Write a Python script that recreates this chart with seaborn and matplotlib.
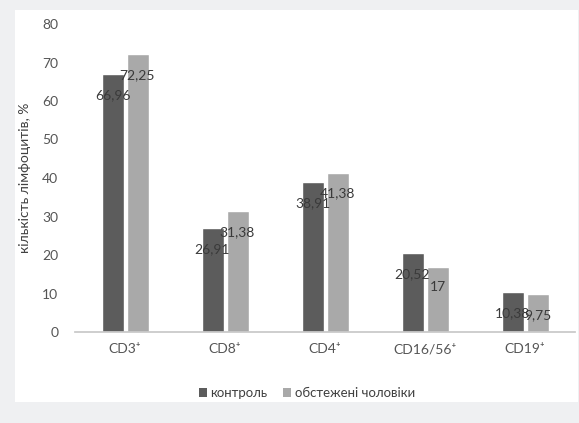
import matplotlib
matplotlib.use('Agg')
import matplotlib.pyplot as plt
import matplotlib.patches as mpatches
import pandas as pd
import seaborn as sns

categories = ['CD3⁺', 'CD8⁺', 'CD4⁺', 'CD16/56⁺', 'CD19⁺']
series_names = ['контроль', 'обстежені чоловіки']
control = [66.96, 26.91, 38.91, 20.52, 10.38]
examined = [72.25, 31.38, 41.38, 17, 9.75]
colors = ['#5c5c5c', '#a9a9a9']

sns.set_theme(style='white')
plt.rcParams['font.family'] = ['Lato', 'DejaVu Sans']

df = pd.DataFrame({
    'cat': categories * 2,
    'group': [series_names[0]] * 5 + [series_names[1]] * 5,
    'value': control + examined,
})

fig = plt.figure(figsize=(5.79, 4.23), dpi=100)
fig.patch.set_facecolor('#eff0f2')
# white chart panel
fig.patches.append(mpatches.Rectangle((15 / 579, 1 - 402 / 423), 563 / 579, 392 / 423,
                                      transform=fig.transFigure, facecolor='white',
                                      edgecolor='none', zorder=-10))

ax = fig.add_axes([75 / 579, 1 - 332 / 423, 500 / 579, 308 / 423])
ax.set_zorder(1)
ax.set_facecolor('none')
sns.barplot(data=df, x='cat', y='value', hue='group', order=categories,
            hue_order=series_names, palette=dict(zip(series_names, colors)),
            width=0.5, gap=0.12, saturation=1, legend=False, ax=ax)

for cont, vals in zip(ax.containers, [control, examined]):
    labels = [f'{v:g}'.replace('.', ',') for v in vals]
    texts = ax.bar_label(cont, labels=labels, padding=-15, fontsize=10, color='#3a3a3a')
    for t in texts:
        t.set_va('center')

ax.set_ylim(0, 80)
ax.set_xlim(-0.5, 4.5)
ax.set_yticks(range(0, 81, 10))
ax.set_xlabel('')
ax.set_ylabel('кількість лімфоцитів, %', fontsize=10, color='#404040', labelpad=8)
ax.tick_params(axis='both', length=0, labelsize=10, colors='#555555')
ax.tick_params(axis='x', pad=8)
ax.tick_params(axis='y', pad=12)
for s in ['top', 'right', 'left']:
    ax.spines[s].set_visible(False)
ax.spines['bottom'].set_color('#c8c8c8')

handles = [mpatches.Patch(facecolor=c, edgecolor='none') for c in colors]
fig.legend(handles, series_names, loc='center', bbox_to_anchor=(307 / 579, 1 - 393 / 423),
           ncol=2, frameon=False, fontsize=9.5, handlelength=0.6, handleheight=0.6,
           handletextpad=0.3, columnspacing=1.2, labelcolor='#404040')

fig.savefig('out.png', dpi=100, facecolor=fig.get_facecolor())
